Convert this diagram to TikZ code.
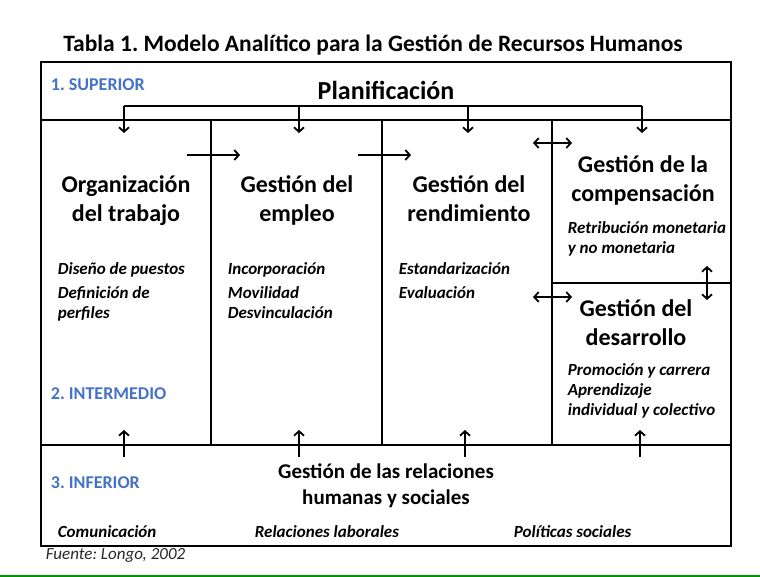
\documentclass[tikz,border=0pt]{standalone}
\usepackage{fontspec}
\setmainfont{Carlito}
\usetikzlibrary{arrows.meta,positioning,calc}
\usepackage{xcolor}
\definecolor{levelblue}{RGB}{68,114,196}
\definecolor{rulegreen}{RGB}{0,150,0}
\definecolor{sourcegray}{RGB}{40,40,40}
\frenchspacing

\begin{document}
\begin{tikzpicture}[x=1pt, y=-1pt, line width=1.8pt, >={Straight Barb[length=4.5pt,width=10pt]},
    head/.style={font=\fontsize{24}{29}\selectfont\bfseries, align=center},
    item/.style={font=\fontsize{17}{20}\selectfont\bfseries\itshape, align=left, anchor=north west, inner sep=0pt},
    level/.style={text=levelblue, font=\fontsize{18}{20}\selectfont\bfseries, anchor=west, inner sep=0pt}]
    \useasboundingbox (0,0) rectangle (760,577);

    % frame and levels
    \draw (41,62) rectangle (731,546);
    \draw (41,120) -- (731,120);
    \draw (41,445) -- (731,445);
    \foreach \x in {211,382,552} \draw (\x,120) -- (\x,445);
    \draw (552,283) -- (731,283);

    \node[font=\fontsize{23.5}{26}\selectfont\bfseries] (title) at (373,45) {Tabla 1. Modelo Analítico para la Gestión de Recursos Humanos};
    \node[level] (sup) at (50,85) {1. SUPERIOR};
    \node[level] (int) at (50,394) {2. INTERMEDIO};
    \node[level] (inf) at (50,483) {3. INFERIOR};

    \node[head, font=\fontsize{26}{30}\selectfont\bfseries] (plan) at (386,90) {Planificación};
    \node[head] (org) at (126,201) {Organización\\del trabajo};
    \node[head] (emp) at (297,200.5) {Gestión del\\empleo};
    \node[head] (ren) at (469,199) {Gestión del\\rendimiento};
    \node[head] (comp) at (643,180) {Gestión de la\\compensación};
    \node[head] (des) at (636,323) {Gestión del\\desarrollo};
    \node[head, font=\fontsize{21}{26}\selectfont\bfseries] (rel) at (386,486) {Gestión de las relaciones\\humanas y sociales};

    \node[item] (orgitems) at (57,262) {Diseño de puestos\\[4pt]Definición de\\perfiles};
    \node[item] (empitems) at (227,262) {Incorporación\\[4pt]Movilidad\\Desvinculación};
    \node[item] (renitems) at (398,262) {Estandarización\\[4pt]Evaluación};
    \node[item] (compitems) at (567,221) {Retribución monetaria\\y no monetaria};
    \node[item] (desitems) at (567,363) {Promoción y carrera\\Aprendizaje\\individual y colectivo};
    \node[item, anchor=west] (com) at (57,532) {Comunicación};
    \node[item, anchor=west] (lab) at (254,532) {Relaciones laborales};
    \node[item, anchor=west] (pol) at (513,532) {Políticas sociales};

    \node[font=\fontsize{17}{20}\selectfont\itshape, text=sourcegray, anchor=west, inner sep=0pt] (src) at (45,555) {Fuente: Longo, 2002};
    \draw[rulegreen, line width=2pt] (0,576) -- (760,576);

    % planning bracket
    \foreach \n/\x in {1/124,2/299,3/468,4/642} {
        \coordinate (d\n) at (\x,106);
        \coordinate (t\n) at (\x,133);
    }
    \draw (d1) -- (d4);
    \foreach \n in {1,...,4} \draw[->] (d\n) -- (t\n);

    % arrows from the lower level
    \foreach \n/\x in {1/124,2/299,3/465,4/640} {
        \coordinate (u\n) at (\x,457);
        \coordinate (v\n) at (\x,430);
    }
    \foreach \n in {1,...,4} \draw[->] (u\n) -- (v\n);

    % links between functions
    \coordinate (a1) at (187,155);
    \coordinate (a2) at (240,155);
    \coordinate (a3) at (358,155);
    \coordinate (a4) at (411,155);
    \coordinate (h1) at (533,143);
    \coordinate (h2) at (572,143);
    \coordinate (h3) at (533,297);
    \coordinate (h4) at (572,297);
    \coordinate (k1) at (707,266);
    \coordinate (k2) at (707,300);
    \draw[->] (a1) -- (a2);
    \draw[->] (a3) -- (a4);
    \draw[<->] (h1) -- (h2);
    \draw[<->] (h3) -- (h4);
    \draw[<->] (k1) -- (k2);
\end{tikzpicture}
\end{document}
